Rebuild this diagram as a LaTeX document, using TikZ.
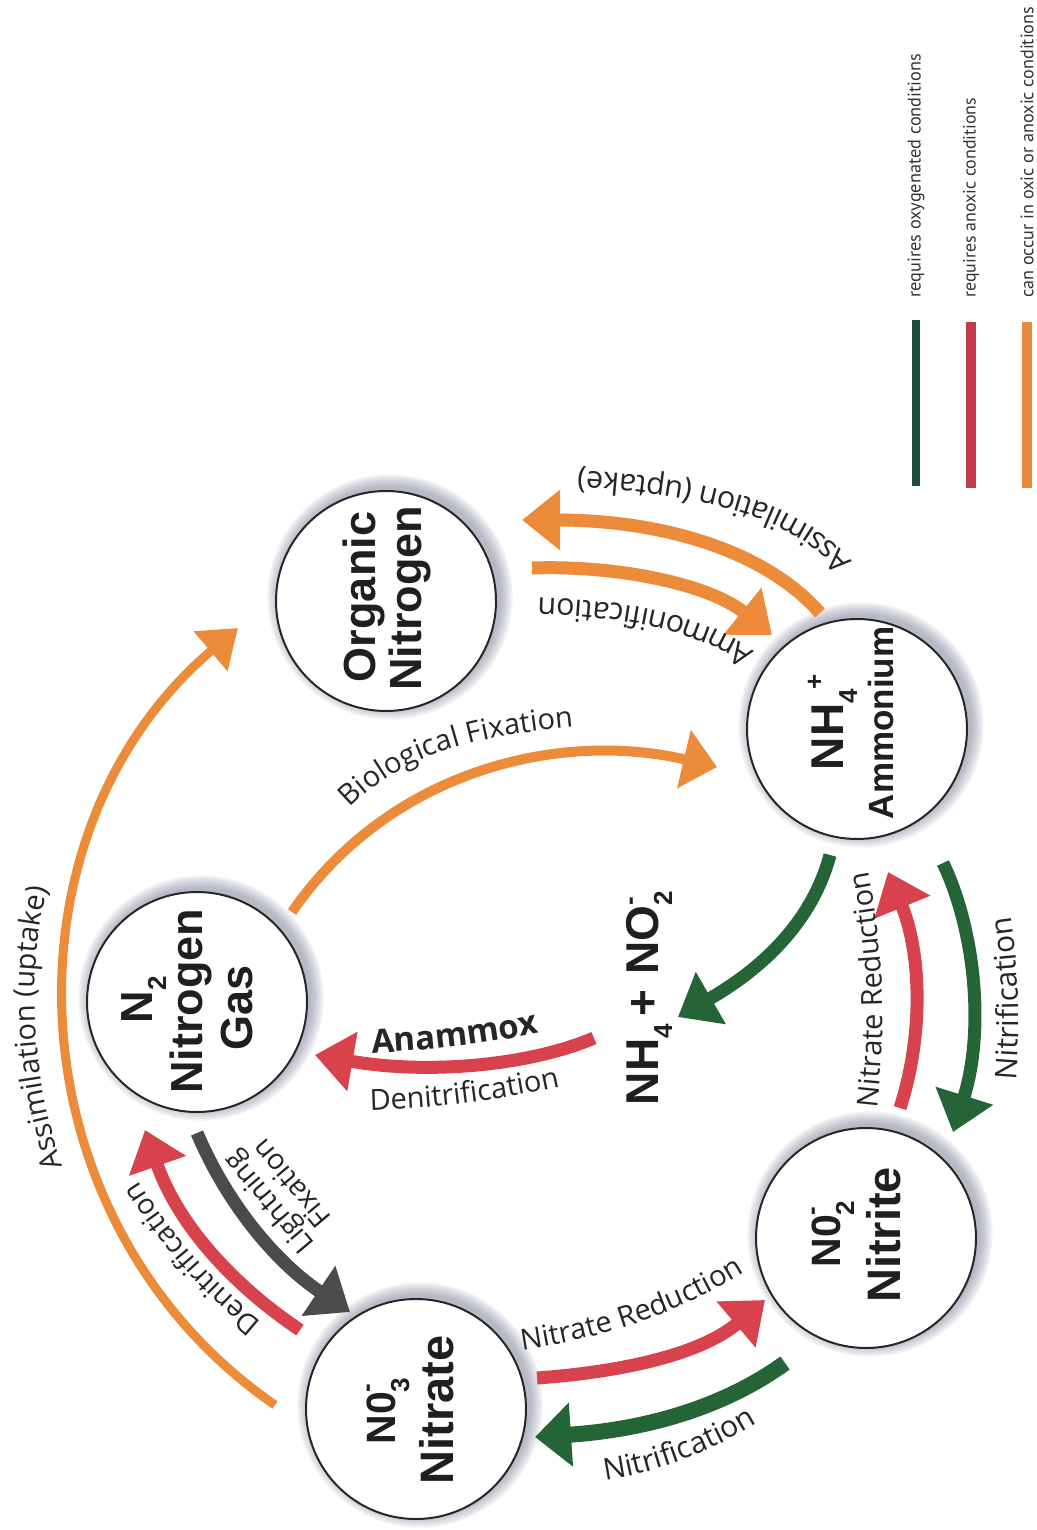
\documentclass[tikz,border=0pt]{standalone}
\usepackage{fontspec}
\setmainfont{Liberation Sans}
\newfontfamily\lblfam{Open Sans}
\newfontfamily\legfam{PT Sans}
\usetikzlibrary{arrows.meta,calc,decorations.text}
\definecolor{orA}{RGB}{236,140,58}
\definecolor{rdA}{RGB}{216,66,76}
\definecolor{gnA}{RGB}{36,100,54}
\definecolor{gyA}{RGB}{75,75,75}
\definecolor{lgG}{RGB}{30,76,59}
\definecolor{lgR}{RGB}{194,60,75}
\definecolor{lgO}{RGB}{232,137,60}
\definecolor{txt}{RGB}{38,38,38}
\definecolor{halo}{RGB}{120,125,150}
\newcommand\csub[1]{\raisebox{-14pt}{\fontsize{26}{26}\selectfont\bfseries #1}}
\newcommand\csup[1]{\raisebox{20pt}{\fontsize{26}{26}\selectfont\bfseries #1}}
\newcommand\csubsup[2]{\makebox[0pt][l]{\csup{#2}}\csub{#1}}
\newcommand\cfA{\fontsize{45}{50}\selectfont\bfseries}
\newcommand\cfB{\fontsize{46}{50}\selectfont\bfseries}
\newcommand\cfC{\fontsize{35}{40}\selectfont\bfseries}
\newcommand\cfD{\fontsize{47}{50}\selectfont\bfseries}
\newcommand\cfE{\fontsize{41}{46}\selectfont\bfseries}
\newcommand\lfa{\lblfam\fontsize{29}{30}\selectfont}
\newcommand\lfe{\lblfam\fontsize{30.5}{32}\selectfont}
\newcommand\lfb{\lblfam\fontsize{26}{29}\selectfont}
\newcommand\lfl{\lblfam\fontsize{28.5}{30}\selectfont}
\newcommand\lfc{\lblfam\fontsize{30}{32}\selectfont}
\newcommand\lfB{\lblfam\fontsize{33}{34}\selectfont\bfseries}
\newcommand\lfd{\lblfam\fontsize{29}{30}\selectfont}
\begin{document}
\begin{tikzpicture}[x=1pt,y=-1pt,
  circ/.style={circle, draw=black!85, line width=2pt, fill=white, minimum size=220pt, inner sep=0pt, outer sep=0pt},
  ct/.style={rotate=90, anchor=base, inner sep=0pt, text=black!88},
  arr/.style={line width=13pt, -{Triangle[width=58pt,length=38pt]}},
  thinarr/.style={line width=9pt, -{Triangle[width=50pt,length=36pt]}},
  lbl/.style={decorate, decoration={text along path, text color=txt, text={#1}}},
  legt/.style={rotate=90, anchor=west, inner sep=0pt, text=black!80, font=\legfam\fontsize{17}{17}\selectfont},
  legbar/.style={line width=10pt}
]
\fill[white] (0,0) rectangle (1036,1530);
\useasboundingbox (0,0) rectangle (1036,1530);

% centres
\coordinate (cO) at (386,601);
\coordinate (cA) at (857,729);
\coordinate (cG) at (197,1002);
\coordinate (cT) at (866,1238);
\coordinate (cR) at (416,1409);

% halos
\foreach \c in {cO,cA,cG,cT,cR}{
  \foreach \k in {1,...,8}{
    \fill[halo,opacity=0.085] ($(\c)+(4,-4)$) circle[radius={109+1.7*\k}];
  }
}

% circles
\node[circ] (orgN) at (cO) {};
\node[circ] (amm) at (cA) {};
\node[circ] (gas) at (cG) {};
\node[circ] (nitrite) at (cT) {};
\node[circ] (nitrate) at (cR) {};

% circle texts
\node[ct, font=\cfA] (orgN1) at (375,597) {Organic};
\node[ct, font=\cfA] (orgN2) at (421,598) {Nitrogen};
\node[ct, font=\cfB] (amm1) at (843,722) {NH\csub{4}\csup{+}};
\node[ct, font=\cfC] (amm2) at (893,723) {Ammonium};
\node[ct, font=\cfA] (gas1) at (152,1000) {N\csub{2}};
\node[ct, font=\cfA] (gas2) at (202,1001) {Nitrogen};
\node[ct, font=\cfA] (gas3) at (252,1008) {Gas};
\node[ct, font=\cfE] (nitrite1) at (840,1234) {N0\csubsup{2}{-}};
\node[ct, font=\cfD] (nitrite2) at (900,1235) {Nitrite};
\node[ct, font=\cfE] (nitrate1) at (395,1411) {N0\csubsup{3}{-}};
\node[ct, font=\cfD] (nitrate2) at (453,1410) {Nitrate};
\node[ct, font=\cfB] (ana) at (658,998) {NH\csub{4}\,+\,\,NO\csubsup{2}{-}};

% arrows
\draw[thinarr, orA] ($(nitrate)+(-141,-4)$) .. controls ($(nitrate)+(-405,-186)$) and ($(orgN)+(-392,234)$) .. ($(orgN)+(-148,27)$);
\draw[line width=10pt, orA, -{Triangle[width=58pt,length=34pt]}] ($(gas)+(95,-90)$) .. controls ($(gas)+(193,-232)$) and ($(amm)+(-297,1)$) .. ($(amm)+(-140,38)$);
\draw[arr, orA] ($(amm)+(-37,-116)$) .. controls ($(amm)+(-97,-184)$) and ($(orgN)+(264,-81)$) .. ($(orgN)+(136,-81)$);
\draw[arr, orA] ($(orgN)+(146,-33)$) .. controls ($(orgN)+(234,-36)$) and ($(amm)+(-147,-144)$) .. ($(amm)+(-85,-94)$);
\draw[arr, gnA] ($(amm)+(-27,126)$) .. controls ($(amm)+(-47,201)$) and ($(ana)+(102,-23)$) .. ($(ana)+(29,19)$);
\draw[arr, rdA] ($(ana)+(-55,40)$) .. controls ($(ana)+(-118,67)$) and ($(gas)+(233,73)$) .. ($(gas)+(118,53)$);
\draw[arr, gnA] ($(amm)+(86,134)$) .. controls ($(amm)+(118,201)$) and ($(nitrite)+(119,-208)$) .. ($(nitrite)+(87,-106)$);
\draw[arr, rdA] ($(nitrite)+(34,-130)$) .. controls ($(nitrite)+(59,-208)$) and ($(amm)+(63,221)$) .. ($(amm)+(31,143)$);
\draw[line width=16pt, gnA, -{Triangle[width=62pt,length=36pt]}] ($(nitrite)+(-81,125)$) .. controls ($(nitrite)+(-146,172)$) and ($(nitrate)+(224,21)$) .. ($(nitrate)+(119,28)$);
\draw[arr, rdA] ($(nitrate)+(121,-31)$) .. controls ($(nitrate)+(204,-37)$) and ($(nitrite)+(-166,117)$) .. ($(nitrite)+(-101,62)$);
\draw[arr, rdA] ($(nitrate)+(-116,-79)$) .. controls ($(nitrate)+(-176,-119)$) and ($(gas)+(-17,228)$) .. ($(gas)+(-52,128)$);
\draw[arr, gyA] ($(gas)+(0,131)$) .. controls ($(gas)+(33,208)$) and ($(nitrate)+(-136,-144)$) .. ($(nitrate)+(-66,-97)$);

% arrow labels
\path[lbl={|\lfd|Assimilation (uptake)}] (62.6,1166) arc[start angle=161, end angle=206, radius=513];
\path[lbl={|\lfa|Biological Fixation}] (350,808) .. controls (405,752) and (485,728) .. (660,722);
\path[lbl={|\lfe|Assimilation (uptake)}] (852,562) .. controls (800,500) and (700,470) .. (500,468);
\path[lbl={|\lfe|Ammonification}] (754,652) .. controls (700,612) and (620,597) .. (490,597);
\path[lbl={|\lfB|Anammox}] (372,1053) .. controls (430,1050) and (500,1045) .. (600,1018);
\path[lbl={|\lfd|Denitrification}] (370,1110) .. controls (440,1108) and (510,1100) .. (610,1075);
\path[lbl={|\lfa|Nitrate Reduction}] (877,1108) .. controls (886,1030) and (886,950) .. (862,840);
\path[lbl={|\lfc|Nitrification}] (1016,1080) .. controls (1021,1020) and (1020,960) .. (1004,875);
\path[lbl={|\lfa|Nitrate Reduction}] (522,1350) .. controls (600,1338) and (690,1315) .. (780,1248);
\path[lbl={|\lfc|Nitrification}] (605,1480) .. controls (660,1472) and (720,1452) .. (795,1398);
\path[lbl={|\lfl|Denitrification}] (262,1322) .. controls (220,1287) and (175,1245) .. (120,1150);
\node[rotate=130, align=center, font=\lfl, text=txt, inner sep=0pt] (lfix) at (279,1194) {Lightning\\Fixation};

% legend
\coordinate (lgGa) at (916,320); \coordinate (lgGb) at (916,486);
\coordinate (lgRa) at (971,322); \coordinate (lgRb) at (971,488);
\coordinate (lgOa) at (1027,322); \coordinate (lgOb) at (1027,488);
\draw[legbar, lgG, line width=8pt] (lgGa) -- (lgGb);
\draw[legbar, lgR] (lgRa) -- (lgRb);
\draw[legbar, lgO] (lgOa) -- (lgOb);
\node[legt] (lt1) at (916,298) {\resizebox{244pt}{!}{requires oxygenated conditions}};
\node[legt] (lt2) at (971,298) {\resizebox{200pt}{!}{requires anoxic conditions}};
\node[legt] (lt3) at (1027,298) {\resizebox{291pt}{!}{can occur in oxic or anoxic conditions}};
\end{tikzpicture}
\end{document}
